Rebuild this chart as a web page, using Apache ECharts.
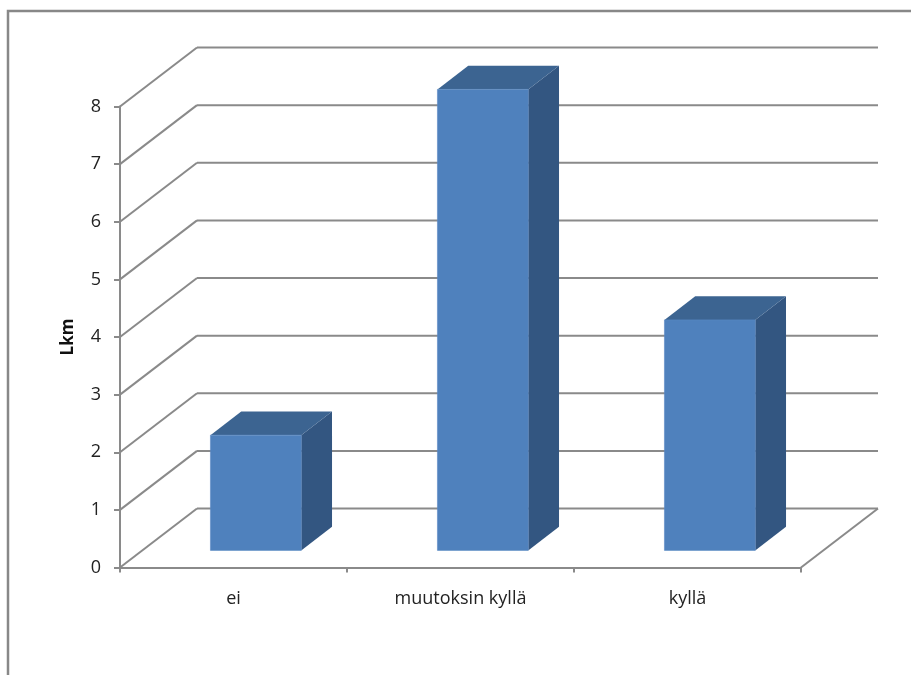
<!DOCTYPE html>
<html>
<head>
<meta charset="utf-8">
<script src="https://cdn.jsdelivr.net/npm/echarts@6/dist/echarts.min.js"></script>
<style>
  html, body { margin: 0; padding: 0; background: #ffffff; }
  #chart { width: 911px; height: 675px; }
</style>
</head>
<body>
<div id="chart"></div>
<script>
// Answer categories and counts
var categories = ['ei', 'muutoksin kyllä', 'kyllä'];
var counts = [2, 8, 4];
// Value-axis ticks (back wall gridlines)
var yTicks = [0, 1, 2, 3, 4, 5, 6, 7, 8];

// Pseudo-3D projection: offset of the back wall from the front plane (px)
var DEPTH_X = 77;
var DEPTH_Y = -59;
// Column placement in depth (fractions of full depth) and width (fraction of band)
var BAR_FRONT = 0.29;
var BAR_BACK = 0.69;
var BAR_WIDTH = 0.4;

var GRID_COLOR = '#8a8a8a';
var FACE = '#4f81bd';
var TOP = '#3c6491';
var SIDE = '#335681';

var chart = echarts.init(document.getElementById('chart'), null, { renderer: 'canvas' });

function wallRender(params, api) {
  var v = api.value(0);
  var cs = params.coordSys;
  var y = api.coord([0, v])[1];
  var left = cs.x, right = cs.x + cs.width;
  var ls = { stroke: GRID_COLOR, lineWidth: 2, fill: null };
  var children = [
    // diagonal on the side wall
    { type: 'line', shape: { x1: left, y1: y, x2: left + DEPTH_X, y2: y + DEPTH_Y }, style: ls },
    // line across the back wall
    { type: 'line', shape: { x1: left + DEPTH_X, y1: y + DEPTH_Y, x2: right + DEPTH_X, y2: y + DEPTH_Y }, style: ls }
  ];
  if (v === 0) {
    // right edge of the floor
    children.push({ type: 'line', shape: { x1: right, y1: y, x2: right + DEPTH_X, y2: y + DEPTH_Y }, style: ls });
  }
  return { type: 'group', children: children };
}

function barRender(params, api) {
  var idx = api.value(0);
  var val = api.value(1);
  var base = api.coord([idx, 0]);
  var topPt = api.coord([idx, val]);
  var band = api.size([1, 0])[0];
  var w = band * BAR_WIDTH;
  var fx = DEPTH_X * BAR_FRONT, fy = DEPTH_Y * BAR_FRONT;
  var bx = DEPTH_X * BAR_BACK, by = DEPTH_Y * BAR_BACK;
  var x0 = base[0] - w / 2 + fx, x1 = base[0] + w / 2 + fx;
  var yb = base[1] + fy, yt = topPt[1] + fy;
  var dx = bx - fx, dy = by - fy;
  return {
    type: 'group',
    children: [
      { type: 'polygon', shape: { points: [[x1, yt], [x1 + dx, yt + dy], [x1 + dx, yb + dy], [x1, yb]] },
        style: { fill: SIDE } },
      { type: 'polygon', shape: { points: [[x0, yt], [x1, yt], [x1 + dx, yt + dy], [x0 + dx, yt + dy]] },
        style: { fill: TOP } },
      { type: 'rect', shape: { x: x0, y: yt, width: x1 - x0, height: yb - yt },
        style: { fill: FACE, stroke: '#5a8ac4', lineWidth: 0.6 } }
    ]
  };
}

var option = {
  animation: false,
  backgroundColor: '#ffffff',
  textStyle: { fontFamily: 'Open Sans' },
  grid: { left: 120, right: 110, top: 106.5, bottom: 107.5, containLabel: false },
  xAxis: {
    type: 'category',
    data: categories,
    axisLine: { show: true, lineStyle: { color: GRID_COLOR, width: 2 } },
    axisTick: { show: true, length: 5, lineStyle: { color: GRID_COLOR, width: 2 } },
    axisLabel: { color: '#222222', fontSize: 18, fontFamily: 'Open Sans', margin: 22 },
    splitLine: { show: false }
  },
  yAxis: {
    type: 'value',
    min: 0,
    max: 8,
    interval: 1,
    name: 'Lkm',
    nameLocation: 'middle',
    nameRotate: 90,
    nameGap: 43,
    nameTextStyle: { fontSize: 17, fontWeight: 'bold', color: '#111111', fontFamily: 'Open Sans' },
    axisLine: { show: true, lineStyle: { color: GRID_COLOR, width: 2 } },
    axisTick: { show: true, length: 6, lineStyle: { color: GRID_COLOR, width: 2 } },
    axisLabel: { color: '#222222', fontSize: 18, fontFamily: 'Open Sans', margin: 19 },
    splitLine: { show: false }
  },
  graphic: [
    {
      type: 'rect',
      shape: { x: 8, y: 11, width: 1000, height: 800 },
      style: { fill: null, stroke: '#888888', lineWidth: 2.5 },
      silent: true,
      z: 100
    }
  ],
  series: [
    {
      type: 'custom',
      name: 'wall',
      renderItem: wallRender,
      data: yTicks.map(function (v) { return [v]; }),
      encode: { y: 0 },
      z: 1,
      silent: true
    },
    {
      type: 'custom',
      name: 'Lkm',
      renderItem: barRender,
      data: counts.map(function (v, i) { return [i, v]; }),
      encode: { x: 0, y: 1 },
      z: 5
    }
  ]
};

chart.setOption(option);
</script>
</body>
</html>
